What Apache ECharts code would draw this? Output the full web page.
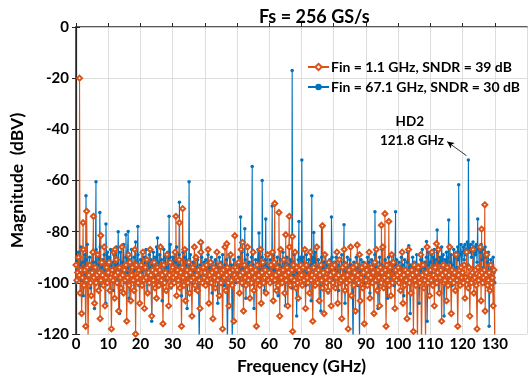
<!DOCTYPE html>
<html>
<head>
<meta charset="utf-8">
<script src="https://cdn.jsdelivr.net/npm/echarts@6/dist/echarts.min.js"></script>
<style>
  html, body { margin: 0; padding: 0; background: #fff; }
  #chart { width: 532px; height: 381px; }
</style>
</head>
<body>
<div id="chart"></div>
<script>
// FFT bins, one value every 0.25 GHz from 0 to 128 GHz
const BIN_STEP = 0.25

// Fin = 1.1 GHz (orange), 40 bins per row = 10 GHz
const lowNoise = [
  -93, -99, -96, -90, -97, -104, -95, -112, -98, -87, -101, -95, -117, -99, -94, -122, -97, -93, -100, -105, -96, -88, -98, -108, -94, -100, -97, -89, -103, -96, -114, -99, -92, -97, -101, -86, -109, -98, -94, -100,
  -96, -92, -103, -98, -118, -95, -99, -88, -106, -97, -91, -100, -96, -111, -94, -98, -102, -86, -97, -104, -95, -99, -93, -115, -98, -89, -101, -92, -107, -97, -94, -99, -103, -87, -120, -93, -98, -100, -95, -108,
  -97, -93, -101, -88, -99, -110, -94, -98, -91, -104, -96, -100, -87, -97, -113, -95, -99, -92, -102, -96, -106, -94, -98, -101, -95, -86, -99, -97, -116, -93, -100, -96, -103, -89, -98, -109, -97, -92, -101, -95,
  -94, -98, -100, -88, -97, -105, -95, -99, -91, -102, -96, -117, -94, -98, -101, -87, -107, -97, -95, -100, -92, -104, -96, -99, -113, -94, -98, -86, -101, -90, -97, -103, -95, -99, -110, -88, -96, -100, -94, -98,
  -96, -101, -93, -99, -87, -108, -97, -92, -100, -96, -114, -94, -98, -102, -95, -88, -99, -97, -105, -93, -100, -96, -118, -95, -98, -86, -103, -97, -94, -100, -109, -96, -89, -99, -101, -95, -115, -97, -94, -98,
  -95, -99, -92, -104, -97, -87, -100, -96, -111, -93, -98, -101, -95, -86, -99, -97, -106, -94, -100, -96, -88, -103, -98, -95, -117, -93, -99, -97, -101, -87, -108, -96, -92, -100, -98, -95, -104, -97, -89, -99,
  -96, -100, -93, -98, -88, -107, -92, -99, -97, -103, -94, -101, -96, -113, -87, -98, -100, -95, -91, -104, -97, -99, -94, -109, -96, -86, -101, -98, -95, -119, -93, -99, -88, -102, -94, -100, -106, -95, -98, -93,
  -97, -101, -94, -99, -87, -110, -93, -98, -100, -95, -104, -88, -99, -97, -115, -94, -98, -101, -96, -86, -100, -95, -107, -97, -93, -99, -102, -96, -112, -89, -98, -100, -95, -103, -92, -99, -97, -109, -94, -100,
  -96, -93, -102, -98, -88, -108, -97, -91, -100, -99, -114, -94, -98, -87, -103, -93, -100, -97, -118, -95, -99, -86, -105, -98, -94, -101, -96, -111, -93, -99, -97, -100, -89, -107, -98, -94, -102, -96, -116, -93,
  -99, -95, -101, -97, -88, -106, -98, -94, -100, -96, -112, -92, -99, -87, -103, -95, -98, -109, -94, -100, -96, -86, -102, -98, -95, -117, -93, -99, -97, -101, -94, -105, -89, -100, -92, -98, -110, -95, -99, -97,
  -94, -100, -96, -103, -98, -88, -108, -97, -101, -95, -99, -114, -96, -87, -100, -98, -104, -95, -97, -119, -93, -99, -101, -96, -124, -94, -98, -100, -89, -126, -97, -93, -102, -99, -123, -96, -86, -100, -98, -105,
  -95, -99, -88, -101, -97, -109, -94, -98, -100, -96, -87, -104, -98, -95, -115, -97, -93, -100, -99, -96, -107, -94, -101, -97, -86, -99, -112, -95, -98, -100, -96, -103, -89, -99, -117, -97, -95, -101, -94, -98,
  -96, -100, -93, -106, -98, -88, -99, -102, -94, -113, -97, -100, -96, -87, -104, -98, -95, -101, -118, -94, -99, -97, -86, -107, -96, -100, -98, -95, -111, -97, -89, -101, -99, -96, -103, -93, -100, -98, -109, -95,
  -126,
]
// tones and spurs: [GHz, dBV]
const lowTones = [
  [1.1, -20], [2.2, -76.5], [3.3, -72], [5.4, -74], [7.7, -81.5], [12.1, -87],
  [31.0, -74], [32.1, -76.5], [33.1, -71], [38.7, -84.2], [46.8, -84.7], [49.3, -81.6],
  [51.7, -84.2], [61.7, -69], [63.0, -72.5], [65.1, -81.2], [66.2, -74], [67.2, -81.9],
  [76.5, -77.7], [87.3, -85.2], [94.8, -77.5], [95.9, -73], [97.1, -76], [111.9, -84.7],
  [125.9, -79], [126.9, -69.5],
]

// Fin = 67.1 GHz (blue)
const highNoise = [
  -100, -95, -91, -88, -96, -93, -86, -99, -92, -105, -94, -89, -97, -91, -85, -98, -93, -90, -102, -95, -88, -96, -92, -110, -94, -87, -99, -93, -90, -96, -86, -101, -94, -91, -97, -89, -95, -108, -92, -88,
  -94, -90, -98, -87, -95, -92, -103, -89, -96, -93, -86, -99, -91, -94, -112, -88, -95, -92, -97, -85, -93, -100, -90, -96, -88, -94, -106, -91, -97, -87, -93, -99, -90, -95, -84, -98, -92, -89, -101, -94,
  -91, -96, -88, -93, -99, -90, -95, -87, -104, -92, -97, -89, -94, -91, -115, -93, -88, -96, -90, -98, -86, -94, -92, -100, -89, -95, -91, -107, -93, -87, -97, -90, -94, -99, -88, -96, -92, -85, -102, -93,
  -90, -95, -88, -97, -92, -86, -99, -93, -89, -96, -91, -105, -94, -88, -98, -90, -95, -87, -110, -93, -91, -97, -89, -94, -100, -92, -96, -90, -103, -94, -98, -91, -95, -125, -93, -97, -90, -96, -99, -92,
  -95, -91, -98, -93, -89, -100, -94, -96, -90, -104, -92, -97, -95, -91, -99, -93, -108, -94, -90, -96, -92, -98, -89, -95, -101, -93, -97, -91, -126, -94, -96, -90, -99, -93, -124, -95, -91, -97, -94, -100,
  -93, -96, -90, -98, -92, -95, -88, -101, -94, -97, -91, -106, -93, -89, -96, -92, -99, -94, -90, -97, -93, -110, -95, -91, -98, -94, -87, -96, -92, -100, -95, -90, -97, -93, -103, -91, -96, -94, -89, -98,
  -94, -91, -97, -93, -100, -89, -95, -92, -98, -94, -90, -105, -93, -96, -91, -99, -94, -88, -97, -92, -109, -95, -90, -96, -93, -99, -91, -94, -102, -92, -97, -89, -95, -93, -113, -96, -91, -98, -94, -90,
  -92, -97, -90, -95, -93, -101, -89, -96, -94, -91, -99, -93, -107, -95, -90, -97, -92, -88, -96, -94, -100, -91, -95, -93, -111, -90, -97, -94, -92, -98, -89, -95, -93, -104, -96, -91, -97, -94, -90, -99,
  -95, -92, -98, -90, -96, -93, -103, -91, -97, -94, -89, -100, -95, -92, -108, -93, -96, -90, -98, -94, -91, -99, -93, -96, -126, -92, -95, -97, -90, -94, -101, -93, -123, -96, -91, -98, -94, -92, -97, -100,
  -93, -97, -90, -95, -92, -104, -94, -91, -98, -93, -96, -89, -100, -94, -92, -110, -95, -90, -97, -93, -87, -96, -94, -99, -91, -95, -93, -106, -90, -97, -94, -92, -98, -95, -89, -101, -93, -96, -91, -94,
  -96, -92, -99, -94, -90, -97, -93, -105, -91, -95, -98, -92, -88, -96, -94, -112, -93, -97, -90, -95, -92, -100, -94, -89, -97, -93, -108, -95, -91, -96, -87, -94, -99, -92, -95, -90, -115, -93, -88, -96,
  -92, -89, -96, -90, -94, -87, -99, -91, -95, -88, -104, -92, -90, -96, -86, -93, -89, -113, -91, -95, -88, -94, -90, -97, -86, -92, -89, -101, -93, -87, -95, -90, -88, -94, -86, -91, -98, -89, -85, -93,
  -88, -86, -91, -85, -89, -87, -84, -93, -86, -88, -85, -90, -87, -84, -96, -86, -89, -85, -92, -87, -86, -99, -88, -85, -91, -87, -94, -89, -86, -90, -97, -92, -88, -117, -95, -91, -98, -93, -90, -96,
  -100,
]
const highTones = [
  [3.1, -66], [6.2, -60.5], [7.4, -72.5], [9.3, -77], [13.1, -80], [15.5, -81.2],
  [16.2, -79.9], [19.2, -78], [25.3, -82.5], [28.9, -74], [32.1, -68.5], [35.1, -60.5],
  [39.0, -83.8], [51.1, -74.3], [52.4, -78.9], [54.7, -54.5], [56.8, -80.5], [57.8, -60],
  [58.9, -75], [60.9, -70], [67.1, -17], [69.2, -76], [70.1, -52], [73.2, -66],
  [73.8, -80.3], [76.2, -78], [79.3, -74.3], [83.2, -77.3], [92.8, -72.2], [99.2, -72.2],
  [103.3, -85.5], [108.8, -83.8], [112.1, -79.3], [115.7, -75.4], [118.8, -61.7], [121.8, -52],
  [123.3, -86.4], [124.7, -75],
]

const seriesNames = ['Fin = 1.1 GHz, SNDR = 39 dB', 'Fin = 67.1 GHz, SNDR = 30 dB']
const xTicks = { min: 0, max: 140, step: 10 }
const yTicks = { min: -120, max: 0, step: 20 }

// annotation anchors in data units
const hd2Title = { text: 'HD2', at: [103.6, -36.9] }
const hd2Freq = { text: '121.8 GHz', at: [104.3, -44.4] }
const hd2Arrow = [[115.2, -44.8], [121.2, -50.3]]

const ORANGE = '#D95319'
const BLUE = '#0072BD'
const FONT = 'Lato'

function buildSpectrum(noise, tones) {
  const pts = noise.map((v, i) => [i * BIN_STEP, v])
  tones.forEach((t) => pts.push(t))
  return pts.sort((a, b) => a[0] - b[0])
}

const chart = echarts.init(document.getElementById('chart'))

const labelStyle = { fontFamily: FONT, fontWeight: 'bold', fontSize: 15, color: '#000' }
const nameStyle = { fontFamily: FONT, fontWeight: 'bold', fontSize: 17.5, color: '#000' }

chart.setOption({
  animation: false,
  title: {
    text: 'Fs = 256 GS/s',
    left: 254,
    top: 3,
    textStyle: { fontFamily: FONT, fontWeight: 'bold', fontSize: 18, color: '#000' },
  },
  grid: { left: 76, right: 5, top: 27, bottom: 47 },
  legend: {
    data: seriesNames,
    orient: 'vertical',
    left: 302,
    top: 55,
    itemWidth: 21,
    itemHeight: 8,
    itemGap: 6,
    textStyle: { fontFamily: FONT, fontWeight: 'bold', fontSize: 14, color: '#000', padding: [0, 0, 0, -3] },
  },
  xAxis: [
    {
      type: 'value',
      min: xTicks.min,
      max: xTicks.max,
      interval: xTicks.step,
      name: 'Frequency (GHz)',
      nameLocation: 'middle',
      nameGap: 19,
      nameTextStyle: nameStyle,
      axisLine: { lineStyle: { color: '#262626', width: 1.5 } },
      axisTick: { inside: true, length: 4, lineStyle: { color: '#262626' } },
      axisLabel: { ...labelStyle, margin: 3, showMaxLabel: false },
      splitLine: { show: true, lineStyle: { color: '#dedede', width: 1 } },
    },
    {
      type: 'value',
      position: 'top',
      min: xTicks.min,
      max: xTicks.max,
      interval: xTicks.step,
      axisLine: { show: true, lineStyle: { color: '#c8c8c8', width: 1 } },
      axisTick: { show: false },
      axisLabel: { show: false },
      splitLine: { show: false },
    },
  ],
  yAxis: [
    {
      type: 'value',
      min: yTicks.min,
      max: yTicks.max,
      interval: yTicks.step,
      name: 'Magnitude  (dBV)',
      nameLocation: 'middle',
      nameGap: 45,
      nameTextStyle: nameStyle,
      axisLine: { show: true, lineStyle: { color: '#262626', width: 1.5 } },
      axisTick: { show: true, inside: true, length: 4, lineStyle: { color: '#262626' } },
      axisLabel: { ...labelStyle, margin: 7 },
      splitLine: { show: true, lineStyle: { color: '#dedede', width: 1 } },
    },
    {
      type: 'value',
      position: 'right',
      min: yTicks.min,
      max: yTicks.max,
      interval: yTicks.step,
      axisLine: { show: true, lineStyle: { color: '#262626', width: 1.2 } },
      axisTick: { show: true, inside: true, length: 4, lineStyle: { color: '#262626' } },
      axisLabel: { show: false },
      splitLine: { show: false },
    },
  ],
  series: [
    {
      name: seriesNames[1],
      type: 'line',
      data: buildSpectrum(highNoise, highTones),
      symbol: 'circle',
      symbolSize: 3.5,
      showAllSymbol: true,
      color: BLUE,
      lineStyle: { color: BLUE, width: 1.1 },
      itemStyle: { color: BLUE },
      clip: true,
      markLine: {
        silent: true,
        symbol: ['arrow', 'none'],
        symbolSize: [5, 7],
        label: { show: false },
        lineStyle: { color: '#000', width: 0.8, type: 'solid' },
        data: [[{ coord: hd2Arrow[0] }, { coord: hd2Arrow[1] }]],
      },
    },
    {
      name: seriesNames[0],
      type: 'line',
      data: buildSpectrum(lowNoise, lowTones),
      symbol: 'emptyDiamond',
      symbolSize: 5,
      showAllSymbol: true,
      color: ORANGE,
      lineStyle: { color: ORANGE, width: 1.1 },
      itemStyle: { color: ORANGE, borderWidth: 1.1 },
      clip: true,
    },
  ],
})

// HD2 note, placed through the axes
const toPx = (p) => chart.convertToPixel({ xAxisIndex: 0, yAxisIndex: 0 }, p)
const noteText = (n) => {
  const [x, y] = toPx(n.at)
  return {
    type: 'text',
    x,
    y,
    style: {
      text: n.text,
      align: 'center',
      verticalAlign: 'middle',
      fontFamily: FONT,
      fontWeight: 'bold',
      fontSize: 13.5,
      fill: '#000',
    },
  }
}
chart.setOption({ graphic: [noteText(hd2Title), noteText(hd2Freq)] })
</script>
</body>
</html>
